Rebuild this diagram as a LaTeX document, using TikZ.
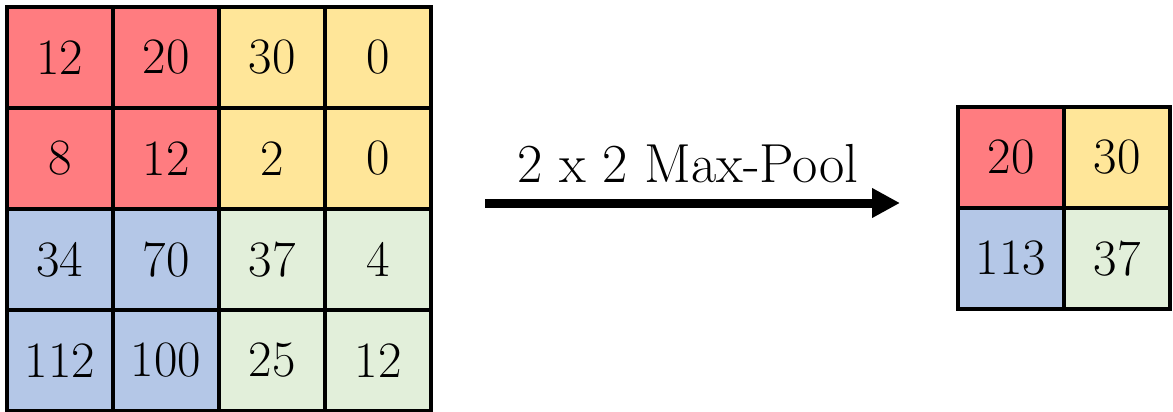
\documentclass[tikz,border=0pt]{standalone}
\usepackage{xcolor}
\usetikzlibrary{arrows.meta, positioning}
\definecolor{poolred}{RGB}{255,124,128}
\definecolor{poolyellow}{RGB}{255,230,153}
\definecolor{poolblue}{RGB}{180,199,231}
\definecolor{poolgreen}{RGB}{226,239,218}
\tikzset{
    cell/.style={rectangle, draw=black, line width=1.8pt, inner sep=0pt, minimum width=53pt, minimum height=50.5pt, font=\fontsize{25.5}{30}\selectfont},
    arrow/.style={line width=4.5pt, -{Triangle[length=14pt, width=14pt]}}
}

\begin{document}
\begin{tikzpicture}[
    x=0.5pt, y=-0.5pt,
    poollabel/.style={anchor=base, inner sep=0pt, font=\fontsize{27.5}{32}\selectfont}
]
    \useasboundingbox (0,0) rectangle (1173,412);

    % Input feature map: 4 x 4
    \foreach \r/\c/\val/\col in {0/0/12/poolred, 0/1/20/poolred, 0/2/30/poolyellow, 0/3/0/poolyellow,
                                 1/0/8/poolred, 1/1/12/poolred, 1/2/2/poolyellow, 1/3/0/poolyellow,
                                 2/0/34/poolblue, 2/1/70/poolblue, 2/2/37/poolgreen, 2/3/4/poolgreen,
                                 3/0/112/poolblue, 3/1/100/poolblue, 3/2/25/poolgreen, 3/3/12/poolgreen}
    {
        \node[cell, fill=\col] (in-\r-\c) at (60+106*\c, 57.5+101*\r) {\val};
    }

    % Pooled output: 2 x 2
    \foreach \r/\c/\val/\col in {0/0/20/poolred, 0/1/30/poolyellow, 1/0/113/poolblue, 1/1/37/poolgreen}
    {
        \node[cell, fill=\col] (out-\r-\c) at (1011+106*\c, 157.5+101*\r) {\val};
    }

    % Pooling operation
    \coordinate (poolstart) at (485,203);
    \coordinate (poolend) at (900,203);
    \node[poollabel] (pooltext) at (688,182) {2 x 2 Max-Pool};
    \draw[arrow] (poolstart) -- (poolend);
\end{tikzpicture}
\end{document}
